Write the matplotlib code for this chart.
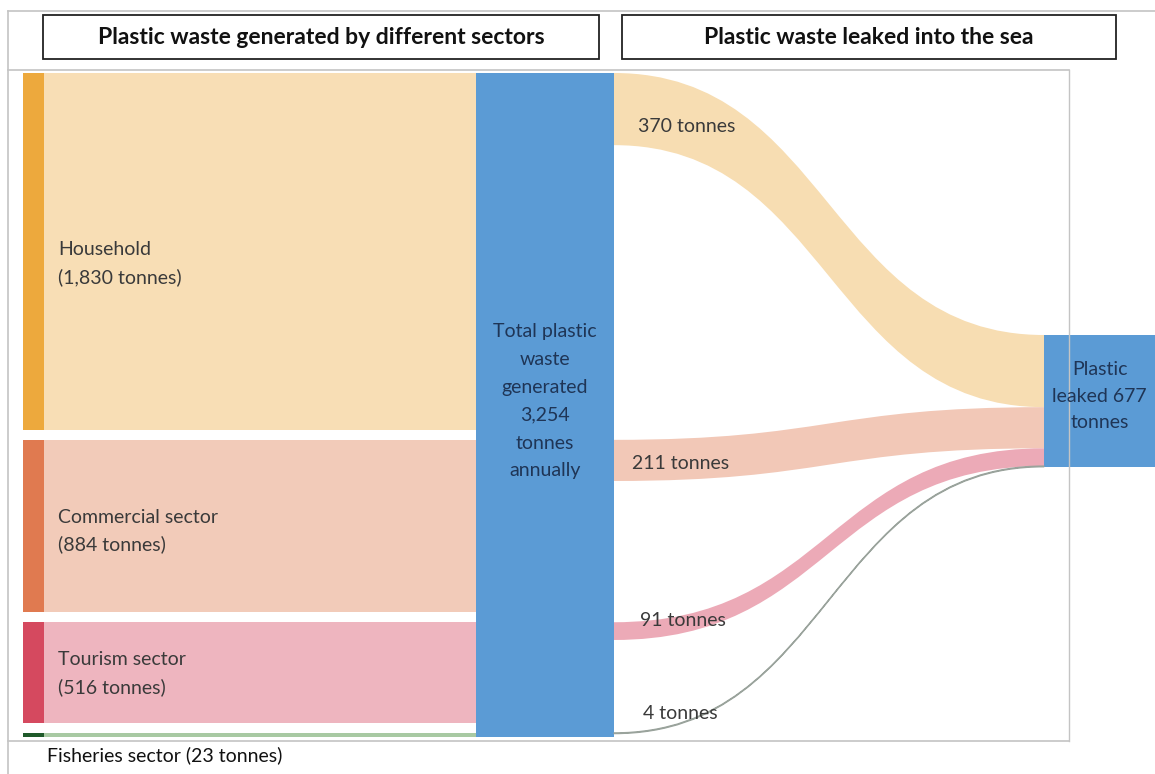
"""
Sankey-style chart: plastic waste generated by sector and leaked into the sea.
Drawn with plain matplotlib patches on a pixel-sized axes.
"""

import matplotlib
matplotlib.use("Agg")
import matplotlib.pyplot as plt
from matplotlib.patches import Rectangle, PathPatch
from matplotlib.path import Path

plt.rcParams["font.family"] = ["Lato", "DejaVu Sans"]

# data
sectors = ["Household", "Commercial sector", "Tourism sector", "Fisheries sector"]
generated = [1830, 884, 516, 23]
leaked = [370, 211, 91, 4]
total_generated = 3254
total_leaked = 677
leaked_labels = ["370 tonnes", "211 tonnes", "91 tonnes", "4 tonnes"]
sector_labels = ["Household\n(1,830 tonnes)", "Commercial sector\n(884 tonnes)",
                 "Tourism sector\n(516 tonnes)", None]
fisheries_label = "Fisheries sector (23 tonnes)"
total_label = "Total plastic\nwaste\ngenerated\n3,254\ntonnes\nannually"
leaked_node_label = "Plastic\nleaked 677\ntonnes"
title_left = "Plastic waste generated by different sectors"
title_right = "Plastic waste leaked into the sea"

# styles
bar_colors = ["#EDA93D", "#E07A50", "#D5495F", "#1F5A2A"]
band_colors = ["#F8DEB5", "#F2CBB9", "#EEB5BF", "#A8C9A3"]
flow_colors = ["#F7DDB2", "#F2C8B7", "#ECAAB7", "#B9D3B4"]
BLUE = "#5B9BD5"
TEXT = "#3A3A3A"
NAVY = "#1F3556"
FRAME = "#C4C4C4"
FS = 14

# layout (pixels)
W, H = 1155, 774
TOP = 73
PX = 0.195          # pixels per tonne
GAP = 10
BAR_X0, BAR_X1 = 23, 44
COL_X0, COL_X1 = 476, 614
NODE_X0, NODE_X1 = 1044, 1155
NODE_TOP = 335
label_dy = [54, 24, -2, -19]
label_dx = [24, 18, 26, 29]
sector_dy = [12, 5, 1, 0]

fig = plt.figure(figsize=(W / 100, H / 100), dpi=100)
ax = fig.add_axes([0, 0, 1, 1])
ax.set_xlim(0, W)
ax.set_ylim(H, 0)
ax.axis("off")

# frame lines from the screenshot
ax.plot([8, W], [11, 11], color=FRAME, lw=1.2)
ax.plot([8, 8], [11, H], color=FRAME, lw=1.2)
ax.plot([8, 1069], [70, 70], color=FRAME, lw=1.2)
ax.plot([1069, 1069], [70, 741], color=FRAME, lw=1.0)
ax.plot([8, 1069], [741, 741], color=FRAME, lw=1.2)

# title boxes
for x0, x1, txt in [(43, 599, title_left), (622, 1116, title_right)]:
    ax.add_patch(Rectangle((x0, 15), x1 - x0, 44, fill=False, ec="#222222", lw=1.3))
    ax.text((x0 + x1) / 2, 38, txt, ha="center", va="center",
            fontsize=16.5, fontweight="bold", color="#111111")

# sector bands on the left
tops = []
y = TOP
for i, val in enumerate(generated):
    h = val * PX
    tops.append(y)
    ax.add_patch(Rectangle((BAR_X1, y), COL_X0 - BAR_X1, h, fc=band_colors[i], ec="none"))
    ax.add_patch(Rectangle((BAR_X0, y), BAR_X1 - BAR_X0, h, fc=bar_colors[i], ec="none"))
    if sector_labels[i]:
        ax.text(58, y + h / 2 + sector_dy[i], sector_labels[i], ha="left", va="center",
                fontsize=FS, color=TEXT, linespacing=1.67)
    y += h + GAP
col_bottom = y - GAP

ax.text(47, 755, fisheries_label, ha="left", va="center", fontsize=FS, color="#111111")

# total column
ax.add_patch(Rectangle((COL_X0, TOP), COL_X1 - COL_X0, col_bottom - TOP, fc=BLUE, ec="none"))
ax.text((COL_X0 + COL_X1) / 2, (TOP + col_bottom) / 2 - 4, total_label,
        ha="center", va="center", fontsize=FS, color=NAVY, linespacing=1.78)

# leaked node
node_h = total_leaked * PX
ax.add_patch(Rectangle((NODE_X0, NODE_TOP), NODE_X1 - NODE_X0, node_h, fc=BLUE, ec="none"))
ax.text((NODE_X0 + NODE_X1) / 2, NODE_TOP + node_h / 2 - 5, leaked_node_label,
        ha="center", va="center", fontsize=FS, color=NAVY, linespacing=1.7)


def flow_path(x0, x1, ya0, ya1, yb0, yb1):
    xm = (x0 + x1) / 2
    verts = [(x0, ya0), (xm, ya0), (xm, yb0), (x1, yb0),
             (x1, yb1), (xm, yb1), (xm, ya1), (x0, ya1), (x0, ya0)]
    codes = [Path.MOVETO, Path.CURVE4, Path.CURVE4, Path.CURVE4,
             Path.LINETO, Path.CURVE4, Path.CURVE4, Path.CURVE4, Path.CLOSEPOLY]
    return Path(verts, codes)


# flows from each sector into the leaked node
yr = NODE_TOP
for i, val in enumerate(leaked):
    w = val * PX
    yl = tops[i]
    p = flow_path(COL_X1, NODE_X0, yl, yl + w, yr, yr + w)
    if val < 10:
        ax.add_patch(PathPatch(p, fc=flow_colors[i], ec="#9AA39C", lw=0.9))
    else:
        ax.add_patch(PathPatch(p, fc=flow_colors[i], ec="none"))
    ax.text(COL_X1 + label_dx[i], yl + label_dy[i], leaked_labels[i],
            ha="left", va="center", fontsize=FS, color=TEXT)
    yr += w

plt.savefig("out.png", dpi=100)
